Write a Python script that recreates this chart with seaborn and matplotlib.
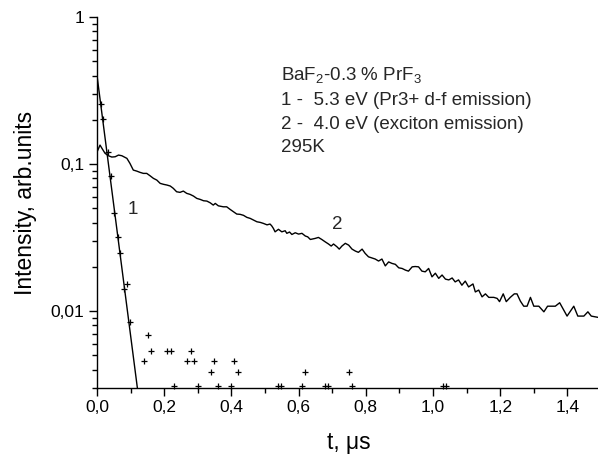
import matplotlib
matplotlib.use("Agg")
import matplotlib.pyplot as plt
import matplotlib.ticker as mticker
import seaborn as sns

# ---- data -------------------------------------------------------------
# curve 1: 5.3 eV (Pr3+ d-f emission), measured points
decay1_t = [0.011, 0.019, 0.033, 0.041, 0.051, 0.062, 0.069, 0.080, 0.090, 0.099,
            0.140, 0.151, 0.160, 0.209, 0.220, 0.229, 0.269, 0.280, 0.290, 0.300,
            0.340, 0.349, 0.360, 0.398, 0.409, 0.419, 0.538, 0.548, 0.609, 0.619,
            0.678, 0.688, 0.749, 0.758, 1.030, 1.038]
decay1_I = [0.256, 0.203, 0.121, 0.0829, 0.0466, 0.0319, 0.0249, 0.0141, 0.0154, 0.00846,
            0.00459, 0.00692, 0.00535, 0.00535, 0.00535, 0.0031, 0.00459, 0.00535, 0.00459, 0.0031,
            0.00383, 0.00459, 0.0031, 0.0031, 0.00459, 0.00383, 0.0031, 0.0031, 0.0031, 0.00383,
            0.0031, 0.0031, 0.00383, 0.0031, 0.0031, 0.0031]

# exponential fit of curve 1 (straight line on log axis)
fit1_t = [0.0, 0.121]
fit1_I = [0.40, 0.0029]

# curve 2: 4.0 eV (exciton emission)
decay2_t = [0.000, 0.009, 0.016, 0.024, 0.034, 0.044, 0.054, 0.064, 0.074, 0.089,
            0.098, 0.108, 0.118, 0.128, 0.138, 0.148, 0.158, 0.168, 0.178, 0.188,
            0.198, 0.208, 0.218, 0.227, 0.237, 0.247, 0.257, 0.267, 0.277, 0.287,
            0.297, 0.307, 0.317, 0.327, 0.337, 0.346, 0.352, 0.361, 0.376, 0.386,
            0.396, 0.406, 0.416, 0.426, 0.436, 0.446, 0.456, 0.466, 0.476, 0.486,
            0.495, 0.506, 0.515, 0.520, 0.525, 0.530, 0.540, 0.550, 0.560, 0.565,
            0.573, 0.580, 0.590, 0.600, 0.610, 0.620, 0.627, 0.635, 0.649, 0.659,
            0.669, 0.679, 0.689, 0.697, 0.704, 0.714, 0.721, 0.729, 0.739, 0.749,
            0.759, 0.769, 0.778, 0.789, 0.798, 0.808, 0.818, 0.828, 0.838, 0.848,
            0.858, 0.868, 0.878, 0.888, 0.898, 0.908, 0.918, 0.927, 0.938, 0.947,
            0.957, 0.967, 0.977, 0.987, 0.997, 1.007, 1.017, 1.027, 1.037, 1.047,
            1.057, 1.066, 1.076, 1.086, 1.096, 1.106, 1.119, 1.126, 1.136, 1.146,
            1.156, 1.166, 1.181, 1.191, 1.198, 1.209, 1.218, 1.230, 1.242, 1.250,
            1.260, 1.270, 1.280, 1.290, 1.300, 1.315, 1.330, 1.341, 1.364, 1.377,
            1.399, 1.419, 1.431, 1.449, 1.461, 1.471, 1.492]
decay2_I = [0.1207, 0.1346, 0.1265, 0.1183, 0.1139, 0.1116, 0.1121, 0.1151, 0.1139, 0.1093,
            0.1011, 0.0910, 0.0896, 0.0878, 0.0864, 0.0864, 0.0832, 0.0799, 0.0778, 0.0739,
            0.0728, 0.0720, 0.0709, 0.0684, 0.0648, 0.0642, 0.0655, 0.0632, 0.0622, 0.0606,
            0.0584, 0.0575, 0.0563, 0.0560, 0.0545, 0.0526, 0.0540, 0.0520, 0.0512, 0.0512,
            0.0492, 0.0474, 0.0457, 0.0455, 0.0448, 0.0434, 0.0427, 0.0416, 0.0405, 0.0401,
            0.0395, 0.0386, 0.0391, 0.0380, 0.0365, 0.0346, 0.0360, 0.0346, 0.0352, 0.0338,
            0.0345, 0.0332, 0.0341, 0.0334, 0.0338, 0.0324, 0.0320, 0.0307, 0.0312, 0.0317,
            0.0307, 0.0296, 0.0286, 0.0277, 0.0286, 0.0274, 0.0264, 0.0277, 0.0289, 0.0281,
            0.0264, 0.0256, 0.0251, 0.0264, 0.0247, 0.0234, 0.0230, 0.0226, 0.0219, 0.0226,
            0.0203, 0.0216, 0.0211, 0.0208, 0.0197, 0.0195, 0.0190, 0.0187, 0.0200, 0.0201,
            0.0200, 0.0187, 0.0185, 0.0195, 0.0171, 0.0181, 0.0167, 0.0176, 0.0165, 0.0163,
            0.0168, 0.0158, 0.0163, 0.0150, 0.0160, 0.0146, 0.0153, 0.0135, 0.0139, 0.0125,
            0.0131, 0.0124, 0.0124, 0.0122, 0.0116, 0.0131, 0.0116, 0.0124, 0.0131, 0.0131,
            0.0117, 0.0108, 0.0108, 0.0124, 0.0108, 0.0108, 0.00989, 0.0108, 0.0108, 0.0114,
            0.00925, 0.0108, 0.00925, 0.00925, 0.00989, 0.00925, 0.00906]

x_ticks = [0.0, 0.2, 0.4, 0.6, 0.8, 1.0, 1.2, 1.4]
x_tick_labels = ["0,0", "0,2", "0,4", "0,6", "0,8", "1,0", "1,2", "1,4"]
y_ticks = [1, 0.1, 0.01]
y_tick_labels = ["1", "0,1", "0,01"]

info_lines = [r"BaF$_2$-0.3 % PrF$_3$",
              "1 -  5.3 eV (Pr3+ d-f emission)",
              "2 -  4.0 eV (exciton emission)",
              "295K"]

# ---- style ------------------------------------------------------------
sns.set_theme(style="white")
plt.rcParams["font.family"] = ["Liberation Sans", "DejaVu Sans"]
plt.rcParams["mathtext.fontset"] = "custom"
plt.rcParams["mathtext.rm"] = "Liberation Sans"
plt.rcParams["mathtext.it"] = "Liberation Sans:italic"
plt.rcParams["mathtext.bf"] = "Liberation Sans:bold"

fig = plt.figure(figsize=(5.98, 4.55), dpi=100)
ax = fig.add_axes([97 / 598, 1 - 388 / 455, 504 / 598, 371 / 455])

sns.lineplot(x=decay2_t, y=decay2_I, ax=ax, color="black", linewidth=1.0,
             estimator=None, sort=False)
sns.lineplot(x=fit1_t, y=fit1_I, ax=ax, color="black", linewidth=1.0,
             estimator=None, sort=False)
sns.scatterplot(x=decay1_t, y=decay1_I, ax=ax, marker="+", color="black",
                s=14, linewidth=0.9, clip_on=False)

ax.set_yscale("log")
ax.set_xlim(0, 1.5)
ax.set_ylim(0.003, 1)

ax.set_xticks(x_ticks, x_tick_labels)
ax.xaxis.set_minor_locator(mticker.MultipleLocator(0.1))
ax.set_yticks(y_ticks, y_tick_labels)
ax.yaxis.set_minor_locator(mticker.LogLocator(base=10, subs=range(2, 10)))
ax.yaxis.set_minor_formatter(mticker.NullFormatter())

ax.tick_params(which="both", direction="out", colors="black", width=1.0,
               bottom=True, left=True, top=False, right=False)
ax.tick_params(which="major", length=6, labelsize=12.5, pad=3)
ax.tick_params(which="minor", length=3.5)

for side in ["top", "right"]:
    ax.spines[side].set_visible(False)
for side in ["left", "bottom"]:
    ax.spines[side].set_color("black")
    ax.spines[side].set_linewidth(1.0)

ax.set_xlabel("t, \u03bcs", fontsize=16.5, labelpad=11, color="black")
ax.set_ylabel("Intensity, arb.units", fontsize=16.5, labelpad=10, color="black")

ax.text(0.106, 0.049, "1", fontsize=13.5, ha="center", va="center")
ax.text(0.716, 0.039, "2", fontsize=13.5, ha="center", va="center")

baselines = [80, 105, 129, 152]
for line, yb in zip(info_lines, baselines):
    fig.text(281 / 598, 1 - yb / 455, line, fontsize=13.5, ha="left", va="baseline")

fig.savefig("out.png", dpi=100, facecolor="white")
